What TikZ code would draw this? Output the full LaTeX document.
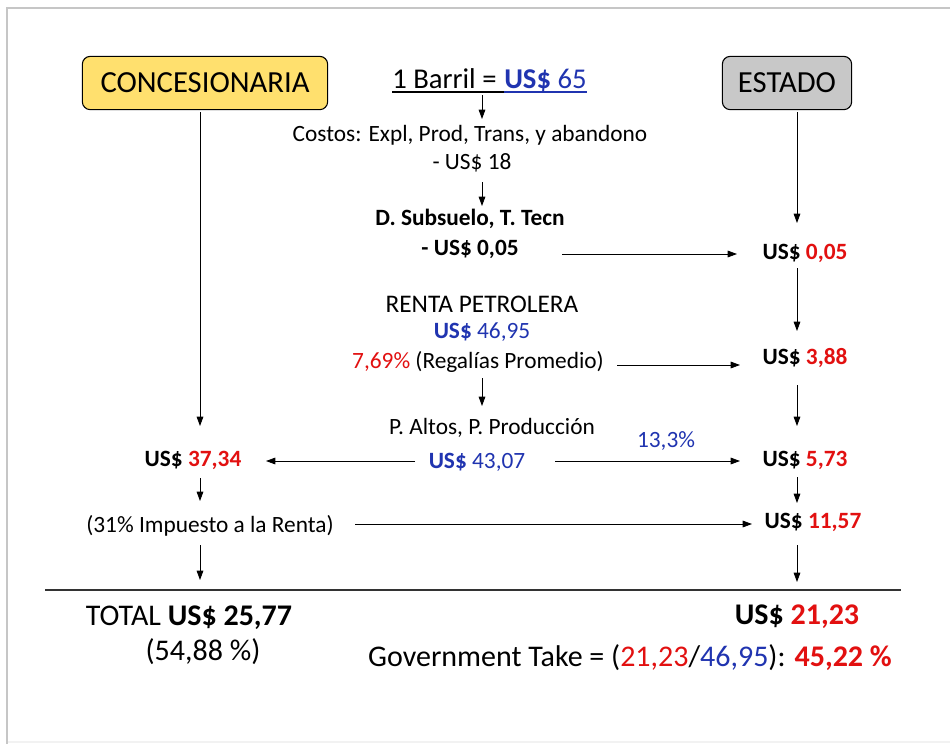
\documentclass[tikz,border=0pt]{standalone}
\usepackage{fontspec}
\setmainfont{Carlito}
\usetikzlibrary{arrows.meta,calc}
\definecolor{myblue}{RGB}{32,52,176}
\definecolor{myred}{RGB}{226,16,16}
\definecolor{boxyellow}{RGB}{255,224,110}
\definecolor{boxgrey}{RGB}{200,200,200}
\begin{document}
\begin{tikzpicture}[x=0.75pt,y=-0.75pt,
  txt/.style={inner sep=0pt,font=\fontsize{17.5}{20}\selectfont},
  btxt/.style={inner sep=0pt,font=\fontsize{17.5}{20}\selectfont\bfseries},
  bigtxt/.style={inner sep=0pt,font=\fontsize{22.5}{26}\selectfont},
  hbox/.style={draw=black,line width=0.8pt,rounded corners=6pt,minimum height=40pt,font=\fontsize{23}{26}\selectfont},
  arr/.style={-{Triangle[length=7pt,width=5pt]},line width=0.6pt}]
\useasboundingbox (0,0) rectangle (950,744);
\fill[white] (0,0) rectangle (950,744);
\draw[gray!45,line width=2pt] (950,8) -- (7,8) -- (7,744);
\draw[gray!10,line width=1pt] (8,742) -- (950,742);

% header boxes
\node[hbox,fill=boxyellow,minimum width=184pt] (conc) at (205,83) {CONCESIONARIA};
\node[hbox,fill=boxgrey,minimum width=97pt] (est) at (787,83) {ESTADO};
\node[inner sep=0pt,font=\fontsize{21.5}{24}\selectfont,anchor=base east] (barril) at (504,88) {1 Barril =\kern0.25em};
\node[inner sep=0pt,font=\fontsize{21.5}{24}\selectfont,anchor=base west,text=myblue] (b65) at (barril.base east) {\textbf{US\$} 65};
\draw[line width=1pt] ($(barril.base west)+(0,4)$) -- ($(barril.base east)+(0,4)$);
\draw[line width=1pt,myblue] ($(b65.base west)+(0,4)$) -- ($(b65.base east)+(0,4)$);

% middle column
\node[txt] (costos) at (470,135) {Costos: Expl, Prod, Trans, y abandono};
\node[txt] (c18) at (472,163) {- US\$ 18};
\node[btxt] (dsub) at (470,219) {D. Subsuelo, T. Tecn};
\node[btxt] (d005) at (470,249) {- US\$ 0,05};
\node[txt,font=\fontsize{19}{22}\selectfont] (renta) at (482,304) {RENTA PETROLERA};
\node[txt,text=myblue] (r4695) at (482,332) {\textbf{US\$} 46,95};
\node[txt] (regal) at (478,362) {{\color{myred}7,69\%} (Regalías Promedio)};
\node[txt] (paltos) at (492,428) {P. Altos, P. Producción};
\node[txt,text=myblue] (v4307) at (477,462) {\textbf{US\$} 43,07};

\coordinate (b1) at (482,95);
\coordinate (b2) at (482,119);
\draw[arr] (b1) -- (b2);
\coordinate (b3) at (482,182);
\coordinate (b4) at (482,206);
\draw[arr] (b3) -- (b4);
\coordinate (b5) at (482,378);
\coordinate (b6) at (482,406);
\draw[arr] (b5) -- (b6);

% right column
\node[btxt] (e005) at (805,253) {US\$ {\color{myred}0,05}};
\node[btxt] (e388) at (805,358) {US\$ {\color{myred}3,88}};
\node[btxt] (e573) at (805,460) {US\$ {\color{myred}5,73}};
\node[btxt] (e1157) at (813,522) {US\$ {\color{myred}11,57}};

\coordinate (e1) at (797,112);
\coordinate (e2) at (797,223);
\draw[arr] (e1) -- (e2);
\coordinate (e3) at (797,268);
\coordinate (e4) at (797,331);
\draw[arr] (e3) -- (e4);
\coordinate (e5) at (797,385);
\coordinate (e6) at (797,426);
\draw[arr] (e5) -- (e6);
\coordinate (e7) at (797,477);
\coordinate (e8) at (797,503);
\draw[arr] (e7) -- (e8);
\coordinate (e9) at (797,545);
\coordinate (e10) at (797,582);
\draw[arr] (e9) -- (e10);

% horizontal arrows
\coordinate (h1) at (562,254);
\coordinate (h2) at (737,254);
\draw[arr] (h1) -- (h2);
\coordinate (h3) at (617,365);
\coordinate (h4) at (740,365);
\draw[arr] (h3) -- (h4);
\coordinate (h5) at (555,461);
\coordinate (h6) at (740,461);
\draw[arr] (h5) -- (h6);
\node[txt,text=myblue] (p133) at (666,441) {13,3\%};
\coordinate (h7) at (415,461);
\coordinate (h8) at (266,461);
\draw[arr] (h7) -- (h8);
\coordinate (h9) at (355,524);
\coordinate (h10) at (752,524);
\draw[arr] (h9) -- (h10);

% left column
\node[btxt] (c3734) at (193,460) {US\$ {\color{myred}37,34}};
\node[txt] (imp) at (210,526) {(31\% Impuesto a la Renta)};
\coordinate (l1) at (200,112);
\coordinate (l2) at (200,426);
\draw[arr] (l1) -- (l2);
\coordinate (l3) at (200,478);
\coordinate (l4) at (200,501);
\draw[arr] (l3) -- (l4);
\coordinate (l5) at (200,545);
\coordinate (l6) at (200,580);
\draw[arr] (l5) -- (l6);

% total line
\coordinate (t1) at (45,590);
\coordinate (t2) at (901,590);
\draw[line width=0.8pt,black!80] (t1) -- (t2);

\node[bigtxt] (total) at (189,618) {TOTAL \textbf{US\$ 25,77}};
\node[bigtxt] (pct) at (203,652) {(54,88 \%)};
\node[bigtxt,font=\fontsize{22.5}{26}\selectfont\bfseries] (e2123) at (797,617) {US\$ {\color{myred}21,23}};
\node[bigtxt] (gt) at (630,658) {Government Take = ({\color{myred}21,23}/{\color{myblue}46,95}): {\color{myred}\textbf{45,22 \%}}};
\end{tikzpicture}
\end{document}
